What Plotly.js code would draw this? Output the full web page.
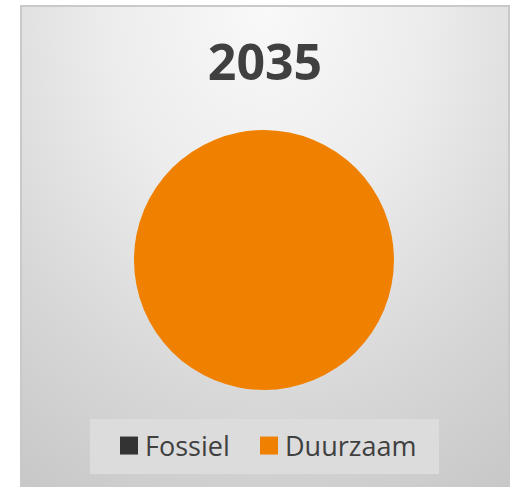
<!DOCTYPE html>
<html>
<head>
<meta charset="utf-8">
<script src="https://cdn.plot.ly/plotly-3.0.1.min.js"></script>
<style>
  html, body { margin: 0; padding: 0; background: #ffffff; }
  #wrap { position: relative; width: 512px; height: 487px; overflow: hidden; }
  #bg { position: absolute; left: 20px; top: 5px; width: 486px; height: 490px;
        border: 2px solid #c9c9c9;
        background: radial-gradient(ellipse 95% 120% at 50% 0%, #f9f9f9 0%, #ececec 35%, #d6d6d6 70%, #c6c6c6 100%); }
  #chart { position: absolute; left: 0; top: 0; width: 512px; height: 487px; }
</style>
</head>
<body>
<div id="wrap">
  <div id="bg"></div>
  <div id="chart"></div>
</div>
<script>
const chartTitle = "2035";
const categories = ["Fossiel", "Duurzaam"];
const values = [0, 100];
const colors = ["#333333", "#f08000"];

const data = [{
  type: "pie",
  labels: categories,
  values: values,
  marker: { colors: colors, line: { width: 0 } },
  textinfo: "none",
  hoverinfo: "label+percent",
  sort: false,
  direction: "clockwise",
  domain: { x: [0.2617, 0.7695], y: [0.1992, 0.7331] },
  automargin: false
}];

const layout = {
  width: 512, height: 487,
  margin: { l: 0, r: 0, t: 0, b: 0 },
  paper_bgcolor: "rgba(0,0,0,0)",
  plot_bgcolor: "rgba(0,0,0,0)",
  title: {
    text: "<b>" + chartTitle + "</b>",
    font: { family: "Open Sans", size: 50, color: "#404040" },
    x: 265 / 512, xanchor: "center",
    y: 1 - 62 / 487, yanchor: "middle"
  },
  shapes: [{
    type: "rect", xref: "paper", yref: "paper",
    x0: 90 / 512, x1: 439 / 512,
    y0: 1 - 474 / 487, y1: 1 - 419 / 487,
    fillcolor: "#dcdcdc", line: { width: 0 }, layer: "below"
  }],
  showlegend: true,
  legend: {
    orientation: "h",
    x: 105 / 512, xanchor: "left",
    y: 1 - 446 / 487, yanchor: "middle",
    bgcolor: "rgba(0,0,0,0)",
    borderwidth: 0,
    font: { family: "Open Sans", size: 27, color: "#404040" },
    itemwidth: 30,
    entrywidth: 95,
    traceorder: "normal"
  }
};

Plotly.newPlot("chart", data, layout, { staticPlot: true }).then(function () {
  document.querySelectorAll("#chart .legendpoints path").forEach(function (p) {
    p.setAttribute("d", "M13,9H-5V-9H13Z");
  });
  document.querySelectorAll("#chart .legend, #chart .legend *").forEach(function (el) {
    if (el.hasAttribute("clip-path")) el.removeAttribute("clip-path");
    if (el.style && el.style.clipPath) el.style.clipPath = "";
  });
});
</script>
</body>
</html>
